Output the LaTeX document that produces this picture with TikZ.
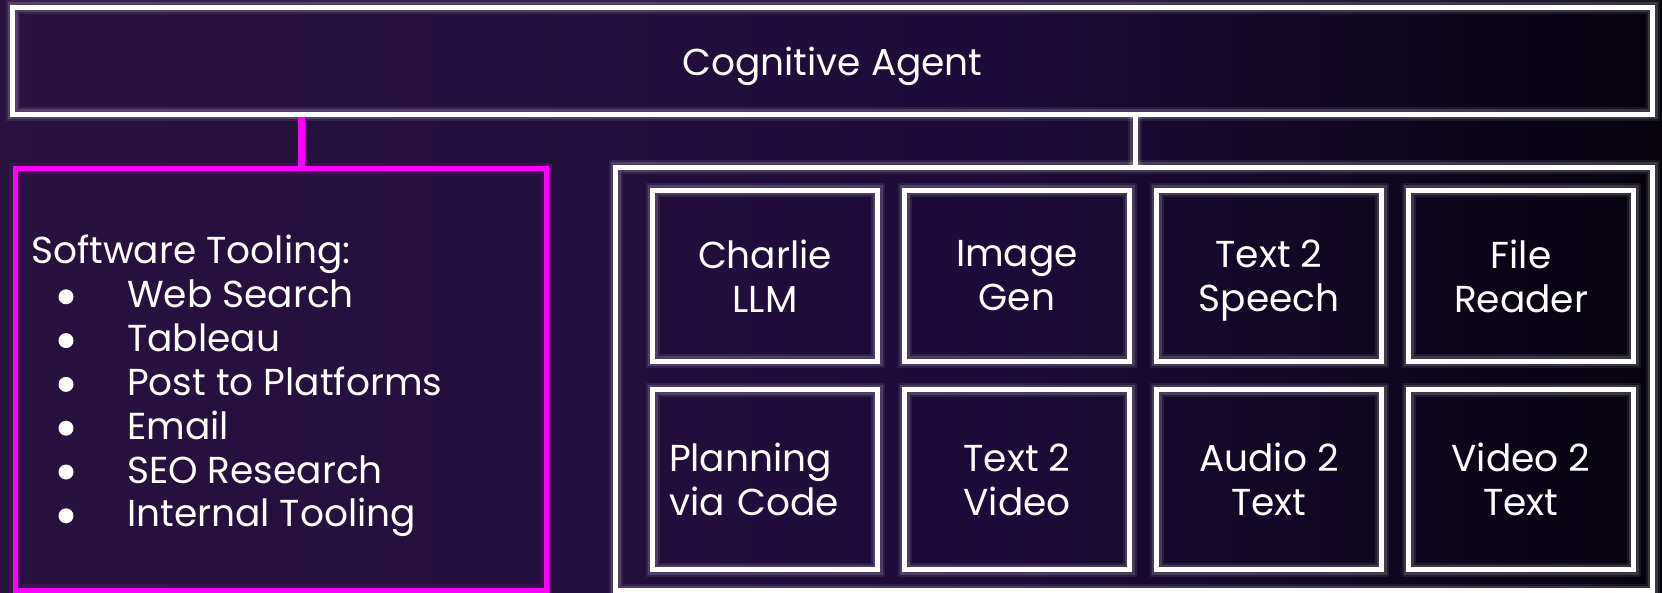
\documentclass[tikz,border=0pt]{standalone}
\usepackage{fontspec}
\setmainfont{Poppins}
\usetikzlibrary{calc}
\definecolor{bgA}{RGB}{46,22,64}
\definecolor{bgB}{RGB}{36,16,62}
\definecolor{bgC}{RGB}{28,11,56}
\definecolor{bgD}{RGB}{14,6,30}
\definecolor{mag}{RGB}{255,0,255}
\pgfdeclarehorizontalshading{bgshade}{100bp}{color(0bp)=(bgA); color(40bp)=(bgB); color(55bp)=(bgC); color(68bp)=(bgD); color(80bp)=(black); color(100bp)=(black)}
\tikzset{
  gloww/.style={preaction={draw=white,line width=14pt,opacity=0.08},
                preaction={draw=white,line width=10pt,opacity=0.14}},
  whitebox/.style={draw=white,line width=5pt,gloww,inner sep=0pt,
                   text=white,font=\fontsize{37.5}{44}\selectfont,align=center},
  magbox/.style={draw=mag,line width=5pt,inner sep=0pt,
                 preaction={draw=mag,line width=12pt,opacity=0.10}},
  cellbox/.style={whitebox,minimum width=225pt},
  toprow/.style={cellbox,minimum height=171pt},
  botrow/.style={cellbox,minimum height=180pt},
  listtxt/.style={anchor=base west,inner sep=0pt,text=white,font=\fontsize{37.5}{44}\selectfont},
  bul/.style={circle,fill=white,inner sep=0pt,minimum size=15pt},
  wline/.style={draw=white,line width=5pt},
  mline/.style={draw=mag,line width=7pt}
}
\begin{document}
\begin{tikzpicture}[x=1pt,y=-1pt]
\useasboundingbox (0,0) rectangle (1662,593);
\shade[shading=bgshade] (0,0) rectangle (1662,593);
% top box
\node[whitebox,minimum width=1640pt,minimum height=107pt,text depth=0pt] (agent) at (832.5,61) {Cognitive Agent};
% left magenta box
\node[magbox,minimum width=531pt,minimum height=421pt] (tools) at (280.5,379.5) {};
% right big box
\node[draw=white,line width=5pt,gloww,inner sep=0pt,minimum width=1037pt,minimum height=423pt] (models) at (1134,379) {};
% connectors
\coordinate (mx) at (301,0);
\coordinate (wx) at (1135,0);
\draw[mline] (agent.south -| mx) -- (tools.north -| mx);
\draw[wline,gloww] (agent.south -| wx) -- (models.north -| wx);
% cells
\node[toprow] (c1) at (765,276) {Charlie\\LLM};
\node[toprow] (c2) at (1017,276) {Image\\Gen};
\node[toprow] (c3) at (1269,276) {Text 2\\\smash{Speech}};
\node[toprow] (c4) at (1521,276) {File\\Reader};
\node[botrow,align=left,text width=192pt] (c5) at (765,479.5) {Planning\\via Code};
\node[botrow] (c6) at (1017,479.5) {Text 2\\Video};
\node[botrow] (c7) at (1269,479.5) {Audio 2\\Text};
\node[botrow] (c8) at (1521,479.5) {Video 2\\Text};
% list
\node[listtxt] (lh) at (31,264) {Software Tooling:};
\node[listtxt] (l1) at (127,307.8) {Web Search};
\node[listtxt] (l2) at (127,351.6) {Tableau};
\node[listtxt] (l3) at (127,395.4) {Post to Platforms};
\node[listtxt] (l4) at (127,439.2) {Email};
\node[listtxt] (l5) at (127,483) {SEO Research};
\node[listtxt] (l6) at (127,526.8) {Internal Tooling};
\foreach \i in {1,...,6} { \node[bul] (b\i) at ($(l\i.base west)+(-61,-11)$) {}; }
\end{tikzpicture}
\end{document}
